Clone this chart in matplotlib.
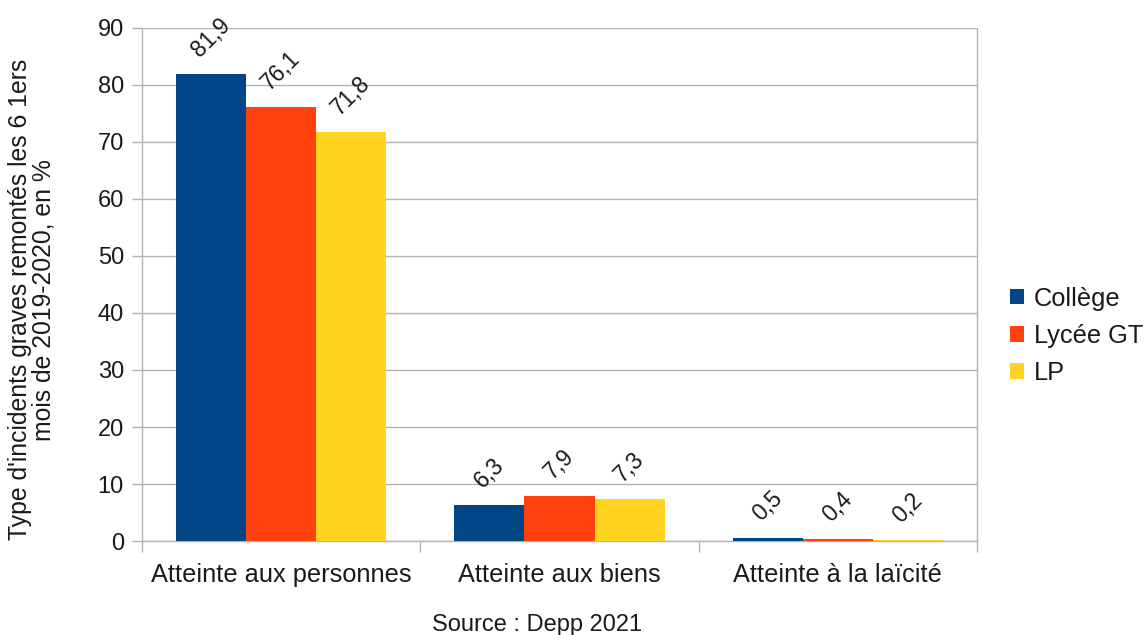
import matplotlib
matplotlib.use("Agg")
import matplotlib.pyplot as plt
import numpy as np

plt.rcParams['font.family'] = ['Liberation Sans', 'DejaVu Sans']

categories = ["Atteinte aux personnes", "Atteinte aux biens", "Atteinte à la laïcité"]
series_names = ["Collège", "Lycée GT", "LP"]
college = [81.9, 6.3, 0.5]
lycee_gt = [76.1, 7.9, 0.4]
lp = [71.8, 7.3, 0.2]
colors = ["#004586", "#ff420e", "#ffd320"]
y_ticks = [0, 10, 20, 30, 40, 50, 60, 70, 80, 90]

fig = plt.figure(figsize=(11.47, 6.35), dpi=100)
ax = fig.add_axes([0.1238, 0.148, 0.728, 0.808])

x = np.arange(len(categories))
bw = 0.252
grid_c = "#b3b3b3"
text_c = "#1a1a1a"

for i, (vals, name, c) in enumerate(zip([college, lycee_gt, lp], series_names, colors)):
    pos = x + (i - 1) * bw
    ax.bar(pos, vals, width=bw, color=c, label=name, zorder=3)
    for p, v in zip(pos, vals):
        ax.annotate(f"{v:.1f}".replace(".", ","), (p, v), xytext=(0, 9),
                    textcoords="offset points", rotation=45, ha="center",
                    va="bottom", fontsize=16.5, color=text_c)

ax.set_xlim(-0.5, 2.5)
ax.set_ylim(0, 90)
ax.set_yticks(y_ticks)
ax.set_yticklabels([str(t) for t in y_ticks], fontsize=17, color=text_c)
ax.yaxis.grid(True, color=grid_c, linewidth=1, zorder=0)
ax.set_axisbelow(True)

ax.set_xticks(x)
ax.set_xticklabels(categories, fontsize=18.3, color=text_c)
ax.set_xticks([-0.5, 0.5, 1.5, 2.5], minor=True)
ax.tick_params(axis="x", which="major", length=0, pad=16)
ax.tick_params(axis="x", which="minor", length=8, color=grid_c, width=1)
ax.tick_params(axis="y", length=7, color=grid_c, width=1, pad=6)

for s in ["left", "bottom", "right"]:
    ax.spines[s].set_color(grid_c)
    ax.spines[s].set_linewidth(1)
ax.spines["top"].set_visible(False)

ax.set_ylabel("Type d'incidents graves remontés les 6 1ers\nmois de 2019-2020, en %",
              fontsize=17.8, linespacing=0.98, color=text_c, va="center", ha="center",
              multialignment="center")
ax.yaxis.set_label_coords(-0.132, 0.47)

fig.text(0.4678, 0.0063, "Source : Depp 2021", ha="center", va="baseline",
         fontsize=17, color=text_c)

leg = fig.legend(loc="center left", bbox_to_anchor=(0.8805, 0.471), frameon=False,
                 fontsize=18.3, handlelength=0.55, handleheight=0.55,
                 handletextpad=0.4, labelspacing=0.52, borderpad=0, borderaxespad=0)
for t in leg.get_texts():
    t.set_color(text_c)

fig.savefig("out.png", dpi=100)
